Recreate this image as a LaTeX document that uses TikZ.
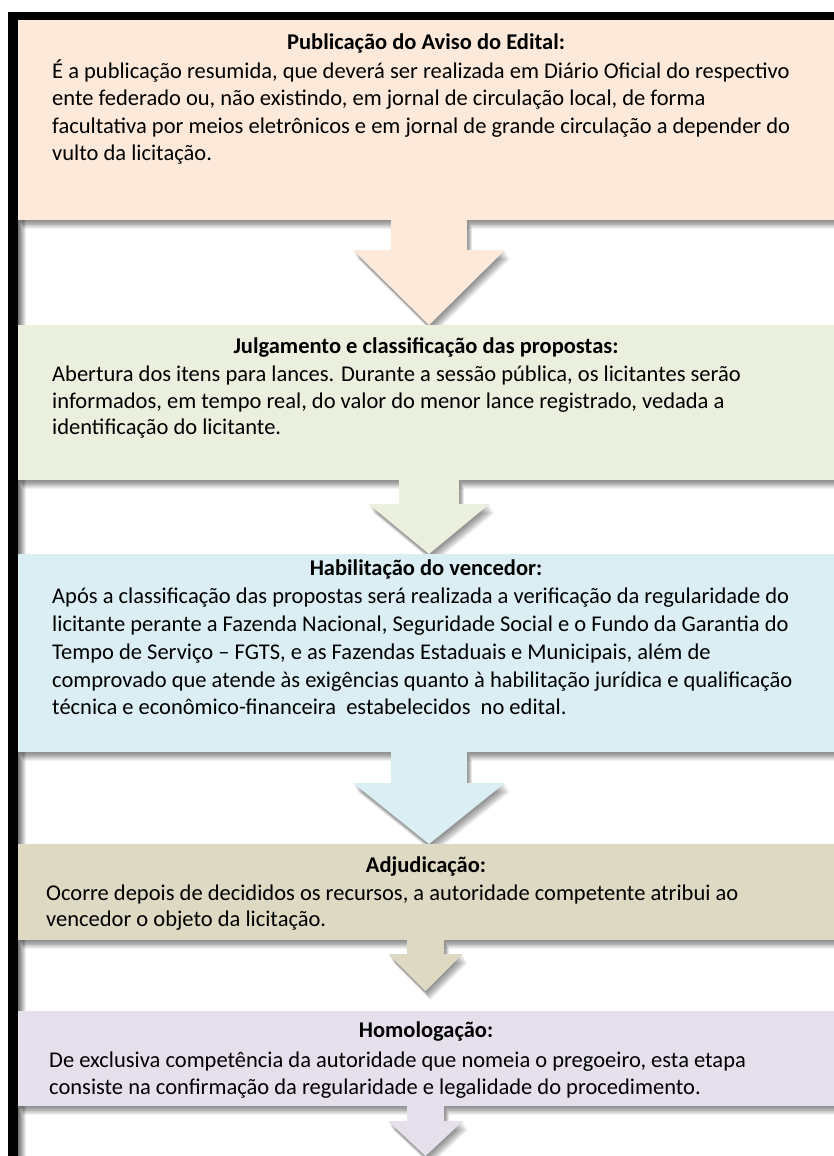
\documentclass[tikz,border=0pt]{standalone}
\usepackage{fontspec}
\setmainfont{Carlito}
\usetikzlibrary{calc}
\pgfdeclarelayer{shadow}
\pgfsetlayers{shadow,main}
\definecolor{cA}{RGB}{253,233,218}
\definecolor{cB}{RGB}{234,239,222}
\definecolor{cC}{RGB}{218,238,243}
\definecolor{cD}{RGB}{221,217,195}
\definecolor{cE}{RGB}{229,224,236}
% block arrow: #1 top centre, #2 shaft half width, #3 shaft length, #4 head half width, #5 head length
\newcommand\blockarr[5]{($(#1)+(-#2,-1)$) -- ($(#1)+(-#2,#3)$) -- ($(#1)+(-#4,#3)$) -- ($(#1)+(0,#3+#5)$) -- ($(#1)+(#4,#3)$) -- ($(#1)+(#2,#3)$) -- ($(#1)+(#2,-1)$) -- cycle}
\newcommand\softshadow[1]{%
  \begin{pgfonlayer}{shadow}
  \foreach \k in {1,...,10}{\fill[black,opacity=0.055,transform canvas={shift={(0.5*\k,0.9*\k)}}] #1;}
  \end{pgfonlayer}}
\begin{document}
\begin{tikzpicture}[x=1pt,y=-1pt,
  stagebox/.style={anchor=north west,inner sep=0pt,outer sep=0pt,minimum width=816pt},
  ttl/.style={anchor=base,inner sep=0pt,font=\fontsize{22.5}{27.6}\selectfont\bfseries},
  txt/.style={anchor=base west,inner sep=0pt,font=\fontsize{22.5}{27.6}\selectfont}]
\useasboundingbox (0,0) rectangle (834,1156);
\begin{pgfonlayer}{shadow}
\shade[left color=black!55,right color=white] (18,20) rectangle (26,1156);
\end{pgfonlayer}

% boxes
\node[stagebox,minimum height=200pt,fill=cA] (s1) at (18,20) {};
\node[stagebox,minimum height=155pt,fill=cB] (s2) at (18,325) {};
\node[stagebox,minimum height=198pt,fill=cC] (s3) at (18,554) {};
\node[stagebox,minimum height=96pt,fill=cD] (s4) at (18,844) {};
\node[stagebox,minimum height=95pt,fill=cE] (s5) at (18,1011) {};
\softshadow{(s1.south west) rectangle (s1.north east)}
\softshadow{(s2.south west) rectangle (s2.north east)}
\softshadow{(s3.south west) rectangle (s3.north east)}
\softshadow{(s4.south west) rectangle (s4.north east)}
\softshadow{(s5.south west) rectangle (s5.north east)}

% arrows
\coordinate (a1) at ($(s1.south west)+(411,0)$);
\coordinate (a2) at ($(s2.south west)+(411,0)$);
\coordinate (a3) at ($(s3.south west)+(411,0)$);
\coordinate (a4) at ($(s4.south west)+(407.5,0)$);
\coordinate (a5) at ($(s5.south west)+(407.5,0)$);
\softshadow{\blockarr{a1}{38}{30}{76}{75}}
\fill[cA] \blockarr{a1}{38}{30}{76}{75};
\softshadow{\blockarr{a2}{30}{24}{60.5}{50}}
\fill[cB] \blockarr{a2}{30}{24}{60.5}{50};
\softshadow{\blockarr{a3}{38}{31}{76}{61}}
\fill[cC] \blockarr{a3}{38}{31}{76}{61};
\softshadow{\blockarr{a4}{18.5}{14}{37}{37}}
\fill[cD] \blockarr{a4}{18.5}{14}{37}{37};
\softshadow{\blockarr{a5}{18.5}{15}{37.5}{35}}
\fill[cE] \blockarr{a5}{18.5}{15}{37.5}{35};

% frame
\fill[black] (8,12) rectangle (834,20);
\fill[black] (8,12) rectangle (18,1156);

% texts box 1
\node[ttl] (t1) at (426,49) {Publicação do Aviso do Edital:};
\node[txt] (l11) at (52,78) {É a publicação resumida, que deverá ser realizada em Diário Oficial do respectivo};
\node[txt] (l12) at (52,105.6) {ente federado ou, não existindo, em jornal de circulação local, de forma};
\node[txt] (l13) at (52,133.2) {facultativa por meios eletrônicos e em jornal de grande circulação a depender do};
\node[txt] (l14) at (52,160.8) {vulto da licitação.};
% box 2
\node[ttl] (t2) at (426,353.5) {Julgamento e classificação das propostas:};
\node[txt] (l21) at (52,381) {Abertura dos itens para lances. Durante a sessão pública, os licitantes serão};
\node[txt] (l22) at (52,408) {informados, em tempo real, do valor do menor lance registrado, vedada a};
\node[txt] (l23) at (52,434) {identificação do licitante.};
% box 3
\node[ttl] (t3) at (426,575) {Habilitação do vencedor:};
\node[txt] (l31) at (52,603.5) {Após a classificação das propostas será realizada a verificação da regularidade do};
\node[txt] (l32) at (52,631.5) {licitante perante a Fazenda Nacional, Seguridade Social e o Fundo da Garantia do};
\node[txt] (l33) at (52,659.5) {Tempo de Serviço – FGTS, e as Fazendas Estaduais e Municipais, além de};
\node[txt] (l34) at (52,687) {comprovado que atende às exigências quanto à habilitação jurídica e qualificação};
\node[txt] (l35) at (52,714) {técnica e econômico-financeira\ \ estabelecidos\ \ no edital.};
% box 4
\node[ttl] (t4) at (426,872) {Adjudicação:};
\node[txt] (l41) at (46,900) {Ocorre depois de decididos os recursos, a autoridade competente atribui ao};
\node[txt] (l42) at (46,926) {vencedor o objeto da licitação.};
% box 5
\node[ttl] (t5) at (426,1037) {Homologação:};
\node[txt] (l51) at (49,1067) {De exclusiva competência da autoridade que nomeia o pregoeiro, esta etapa};
\node[txt] (l52) at (49,1094) {consiste na confirmação da regularidade e legalidade do procedimento.};
\end{tikzpicture}
\end{document}
